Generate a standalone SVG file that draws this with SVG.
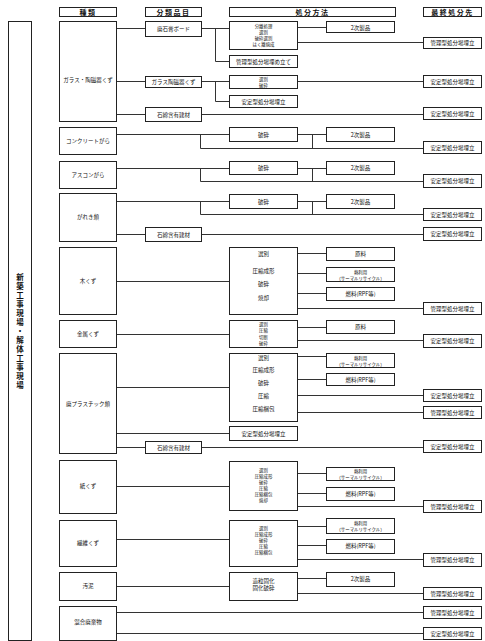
<svg xmlns="http://www.w3.org/2000/svg" width="485" height="641" viewBox="0 0 485 641">
<style>
.bg{fill:#fff}
.b{fill:#fff;stroke:#222;stroke-width:1}
.l{stroke:#333;stroke-width:1;fill:none}
text{font-family:"Noto Sans CJK JP","Noto Sans",sans-serif;fill:#111;text-anchor:middle;dominant-baseline:central}
.t{font-size:5.5px}
.d{font-size:4.4px}
.h{font-size:7px;font-weight:bold;letter-spacing:1.5px}
.v{font-size:7.5px;font-weight:bold;writing-mode:vertical-rl;text-anchor:start;letter-spacing:1.5px}
</style>
<rect class="bg" x="0" y="0" width="485" height="641"/>

<g id="headers">
<rect class="b" x="59.5" y="7.5" width="57" height="9"/><text class="h" x="88" y="12">種類</text>
<rect class="b" x="145.5" y="7.5" width="56" height="9"/><text class="h" x="173.5" y="12">分類品目</text>
<rect class="b" x="229.5" y="7.5" width="166" height="9"/><text class="h" x="312.5" y="12">処分方法</text>
<rect class="b" x="423.5" y="7.5" width="58" height="9"/><text class="h" x="452.5" y="12">最終処分先</text>
</g>

<g id="site">
<rect class="b" x="8.5" y="21.5" width="23" height="619"/>
<text class="v" x="20" y="273">新築工事現場・解体工事現場</text>
</g>

<g id="connectors">
<path class="l" d="M116.5 28.5H145.5M116.5 81.5H145.5M116.5 114.5H145.5"/>
<path class="l" d="M201.5 28.5H229.5M215.5 28.5V61.5H229.5M297.5 27.5H326.5M297.5 42.5H423.5"/>
<path class="l" d="M201.5 81.5H229.5M215.5 81.5V101.5H229.5M297.5 81.5H423.5M201.5 114.5H423.5"/>
<path class="l" d="M116.5 134.5H229.5M200.5 134.5V148.5H423.5M297.5 134.5H326.5M312.5 134.5V148.5"/>
<path class="l" d="M116.5 168.5H229.5M200.5 168.5V181.5H423.5M297.5 168.5H326.5M312.5 168.5V181.5"/>
<path class="l" d="M116.5 201.5H229.5M200.5 201.5V214.5H423.5M297.5 201.5H326.5M312.5 201.5V214.5"/>
<path class="l" d="M116.5 234.5H145.5M201.5 234.5H423.5"/>
<path class="l" d="M116.5 281.5H229.5M297.5 253.5H326.5M297.5 273.5H326.5M297.5 293.5H326.5M297.5 308.5H423.5"/>
<path class="l" d="M116.5 334.5H229.5M297.5 327.5H326.5M297.5 340.5H423.5"/>
<path class="l" d="M116.5 387.5H229.5M297.5 356.5H326.5M297.5 379.5H326.5M297.5 395.5H423.5M297.5 412.5H423.5"/>
<path class="l" d="M116.5 433.5H229.5M116.5 447.5H145.5M201.5 447.5H423.5"/>
<path class="l" d="M116.5 486.5H229.5M297.5 473.5H326.5M297.5 493.5H326.5M297.5 506.5H423.5"/>
<path class="l" d="M116.5 539.5H229.5M297.5 526.5H326.5M297.5 545.5H326.5M297.5 559.5H423.5"/>
<path class="l" d="M116.5 586.5H229.5M297.5 578.5H326.5M297.5 593.5H423.5"/>
<path class="l" d="M116.5 612.5H423.5M116.5 633.5H423.5"/>
</g>

<g id="categories">
<g id="cat-glass"><rect class="b" x="59.5" y="21.5" width="57" height="100"/><text class="t" x="88" y="80">ガラス・陶磁器くず</text></g>
<g id="cat-concrete"><rect class="b" x="59.5" y="127.5" width="57" height="27"/><text class="t" x="88" y="141">コンクリートがら</text></g>
<g id="cat-ascon"><rect class="b" x="59.5" y="161.5" width="57" height="27"/><text class="t" x="88" y="175">アスコンがら</text></g>
<g id="cat-gareki"><rect class="b" x="59.5" y="193.5" width="57" height="48"/><text class="t" x="88" y="217">がれき類</text></g>
<g id="cat-wood"><rect class="b" x="59.5" y="247.5" width="57" height="67"/><text class="t" x="88" y="281">木くず</text></g>
<g id="cat-metal"><rect class="b" x="59.5" y="320.5" width="57" height="27"/><text class="t" x="88" y="334">金属くず</text></g>
<g id="cat-plastic"><rect class="b" x="59.5" y="353.5" width="57" height="100"/><text class="t" x="88" y="404">廃プラスチック類</text></g>
<g id="cat-paper"><rect class="b" x="59.5" y="460.5" width="57" height="53"/><text class="t" x="88" y="486">紙くず</text></g>
<g id="cat-fiber"><rect class="b" x="59.5" y="520.5" width="57" height="46"/><text class="t" x="88" y="543">繊維くず</text></g>
<g id="cat-sludge"><rect class="b" x="59.5" y="572.5" width="57" height="28"/><text class="t" x="88" y="586">汚泥</text></g>
<g id="cat-mixed"><rect class="b" x="59.5" y="606.5" width="57" height="34"/><text class="t" x="88" y="622">混合廃棄物</text></g>
</g>

<g id="items">
<g id="item-gypsum"><rect class="b" x="145.5" y="21.5" width="56" height="15"/><text class="t" x="173.5" y="29">廃石膏ボード</text></g>
<g id="item-glass"><rect class="b" x="145.5" y="76.5" width="56" height="11"/><text class="t" x="173.5" y="82">ガラス陶磁器くず</text></g>
<g id="item-asb1"><rect class="b" x="145.5" y="107.5" width="56" height="14"/><text class="t" x="173.5" y="114.5">石綿含有建材</text></g>
<g id="item-asb2"><rect class="b" x="145.5" y="227.5" width="56" height="14"/><text class="t" x="173.5" y="234.5">石綿含有建材</text></g>
<g id="item-asb3"><rect class="b" x="145.5" y="441.5" width="56" height="12"/><text class="t" x="173.5" y="447.5">石綿含有建材</text></g>
</g>

<g id="methods">
<g id="m-gypsum"><rect class="b" x="229.5" y="21.5" width="68" height="28"/><text class="d"><tspan x="263.5" y="25.5">分離処理</tspan><tspan x="263.5" y="31.5">選別</tspan><tspan x="263.5" y="37.5">破砕選別</tspan><tspan x="263.5" y="43.5">はく離焼成</tspan></text></g>
<g id="m-gypsum-land"><rect class="b" x="229.5" y="55.5" width="68" height="12"/><text class="t" x="263.5" y="61.5">管理型処分場埋め立て</text></g>
<g id="m-glass"><rect class="b" x="229.5" y="75.5" width="68" height="13"/><text class="d"><tspan x="263.5" y="79">選別</tspan><tspan x="263.5" y="85">破砕</tspan></text></g>
<g id="m-glass-land"><rect class="b" x="229.5" y="95.5" width="68" height="12"/><text class="t" x="263.5" y="101.5">安定型処分場埋立</text></g>
<g id="m-concrete"><rect class="b" x="229.5" y="127.5" width="68" height="14"/><text class="t" x="263.5" y="134.5">破砕</text></g>
<g id="m-ascon"><rect class="b" x="229.5" y="161.5" width="68" height="13"/><text class="t" x="263.5" y="168">破砕</text></g>
<g id="m-gareki"><rect class="b" x="229.5" y="194.5" width="68" height="14"/><text class="t" x="263.5" y="201.5">破砕</text></g>
<g id="m-wood"><rect class="b" x="229.5" y="247.5" width="68" height="67"/><text class="t"><tspan x="263.5" y="253.5">選別</tspan><tspan x="263.5" y="271">圧縮成形</tspan><tspan x="263.5" y="284">破砕</tspan><tspan x="263.5" y="297.5">焼却</tspan></text></g>
<g id="m-metal"><rect class="b" x="229.5" y="320.5" width="68" height="27"/><text class="d"><tspan x="263.5" y="324">選別</tspan><tspan x="263.5" y="330">圧縮</tspan><tspan x="263.5" y="336.5">切断</tspan><tspan x="263.5" y="343">破砕</tspan></text></g>
<g id="m-plastic"><rect class="b" x="229.5" y="353.5" width="68" height="68"/><text class="t"><tspan x="263.5" y="357.5">選別</tspan><tspan x="263.5" y="370">圧縮成形</tspan><tspan x="263.5" y="383">破砕</tspan><tspan x="263.5" y="396">圧縮</tspan><tspan x="263.5" y="409">圧縮梱包</tspan></text></g>
<g id="m-plastic-land"><rect class="b" x="229.5" y="426.5" width="68" height="14"/><text class="t" x="263.5" y="433.5">安定型処分場埋立</text></g>
<g id="m-paper"><rect class="b" x="229.5" y="461.5" width="68" height="49"/><text class="d"><tspan x="263.5" y="470">選別</tspan><tspan x="263.5" y="476">圧縮成形</tspan><tspan x="263.5" y="482">破砕</tspan><tspan x="263.5" y="488">圧縮</tspan><tspan x="263.5" y="494">圧縮梱包</tspan><tspan x="263.5" y="500">焼却</tspan></text></g>
<g id="m-fiber"><rect class="b" x="229.5" y="520.5" width="68" height="46"/><text class="d"><tspan x="263.5" y="528">選別</tspan><tspan x="263.5" y="534">圧縮成形</tspan><tspan x="263.5" y="540">破砕</tspan><tspan x="263.5" y="546">圧縮</tspan><tspan x="263.5" y="552">圧縮梱包</tspan></text></g>
<g id="m-sludge"><rect class="b" x="229.5" y="572.5" width="68" height="28"/><text class="t"><tspan x="263.5" y="581">造粒固化</tspan><tspan x="263.5" y="587.5">固化破砕</tspan></text></g>
</g>

<g id="products">
<g id="p1"><rect class="b" x="326.5" y="21.5" width="68" height="11"/><text class="t" x="360.5" y="27.5">2次製品</text></g>
<g id="p2"><rect class="b" x="326.5" y="127.5" width="68" height="14"/><text class="t" x="360.5" y="134.5">2次製品</text></g>
<g id="p3"><rect class="b" x="326.5" y="161.5" width="68" height="13"/><text class="t" x="360.5" y="168">2次製品</text></g>
<g id="p4"><rect class="b" x="326.5" y="194.5" width="68" height="14"/><text class="t" x="360.5" y="201.5">2次製品</text></g>
<g id="p5"><rect class="b" x="326.5" y="247.5" width="68" height="13"/><text class="t" x="360.5" y="254">原料</text></g>
<g id="p6"><rect class="b" x="326.5" y="267.5" width="68" height="14"/><text class="d" x="360.5" y="271.5">熱利用</text><text class="d" x="360.5" y="277.5">（サーマルリサイクル）</text></g>
<g id="p7"><rect class="b" x="326.5" y="287.5" width="68" height="13"/><text class="t" x="360.5" y="294">燃料(RPF等)</text></g>
<g id="p8"><rect class="b" x="326.5" y="320.5" width="68" height="13"/><text class="t" x="360.5" y="327">原料</text></g>
<g id="p9"><rect class="b" x="326.5" y="353.5" width="68" height="14"/><text class="d" x="360.5" y="357.5">熱利用</text><text class="d" x="360.5" y="363.5">（サーマルリサイクル）</text></g>
<g id="p10"><rect class="b" x="326.5" y="373.5" width="68" height="12"/><text class="t" x="360.5" y="379.5">燃料(RPF等)</text></g>
<g id="p11"><rect class="b" x="326.5" y="467.5" width="68" height="13"/><text class="d" x="360.5" y="471">熱利用</text><text class="d" x="360.5" y="477">（サーマルリサイクル）</text></g>
<g id="p12"><rect class="b" x="326.5" y="487.5" width="68" height="13"/><text class="t" x="360.5" y="494">燃料(RPF等)</text></g>
<g id="p13"><rect class="b" x="326.5" y="518.5" width="68" height="15"/><text class="d" x="360.5" y="523">熱利用</text><text class="d" x="360.5" y="529">（サーマルリサイクル）</text></g>
<g id="p14"><rect class="b" x="326.5" y="539.5" width="68" height="14"/><text class="t" x="360.5" y="546">燃料(RPF等)</text></g>
<g id="p15"><rect class="b" x="326.5" y="572.5" width="68" height="14"/><text class="t" x="360.5" y="579">2次製品</text></g>
</g>

<g id="finals">
<g id="f1"><rect class="b" x="423.5" y="37.5" width="58" height="11"/><text class="t" x="452.5" y="43">管理型処分場埋立</text></g>
<g id="f2"><rect class="b" x="423.5" y="75.5" width="58" height="12"/><text class="t" x="452.5" y="81.5">安定型処分場埋立</text></g>
<g id="f3"><rect class="b" x="423.5" y="107.5" width="58" height="12"/><text class="t" x="452.5" y="113.5">安定型処分場埋立</text></g>
<g id="f4"><rect class="b" x="423.5" y="141.5" width="58" height="12"/><text class="t" x="452.5" y="147.5">安定型処分場埋立</text></g>
<g id="f5"><rect class="b" x="423.5" y="174.5" width="58" height="13"/><text class="t" x="452.5" y="181">安定型処分場埋立</text></g>
<g id="f6"><rect class="b" x="423.5" y="208.5" width="58" height="12"/><text class="t" x="452.5" y="214.5">安定型処分場埋立</text></g>
<g id="f7"><rect class="b" x="423.5" y="227.5" width="58" height="13"/><text class="t" x="452.5" y="234">安定型処分場埋立</text></g>
<g id="f8"><rect class="b" x="423.5" y="302.5" width="58" height="12"/><text class="t" x="452.5" y="308.5">管理型処分場埋立</text></g>
<g id="f9"><rect class="b" x="423.5" y="334.5" width="58" height="13"/><text class="t" x="452.5" y="341">安定型処分場埋立</text></g>
<g id="f10"><rect class="b" x="423.5" y="389.5" width="58" height="12"/><text class="t" x="452.5" y="395.5">安定型処分場埋立</text></g>
<g id="f11"><rect class="b" x="423.5" y="406.5" width="58" height="12"/><text class="t" x="452.5" y="412.5">管理型処分場埋立</text></g>
<g id="f12"><rect class="b" x="423.5" y="440.5" width="58" height="12"/><text class="t" x="452.5" y="446.5">安定型処分場埋立</text></g>
<g id="f13"><rect class="b" x="423.5" y="500.5" width="58" height="12"/><text class="t" x="452.5" y="506.5">管理型処分場埋立</text></g>
<g id="f14"><rect class="b" x="423.5" y="553.5" width="58" height="13"/><text class="t" x="452.5" y="560">管理型処分場埋立</text></g>
<g id="f15"><rect class="b" x="423.5" y="587.5" width="58" height="12"/><text class="t" x="452.5" y="593.5">管理型処分場埋立</text></g>
<g id="f16"><rect class="b" x="423.5" y="606.5" width="58" height="12"/><text class="t" x="452.5" y="612.5">管理型処分場埋立</text></g>
<g id="f17"><rect class="b" x="423.5" y="627.5" width="58" height="12"/><text class="t" x="452.5" y="633.5">安定型処分場埋立</text></g>
</g>
</svg>
